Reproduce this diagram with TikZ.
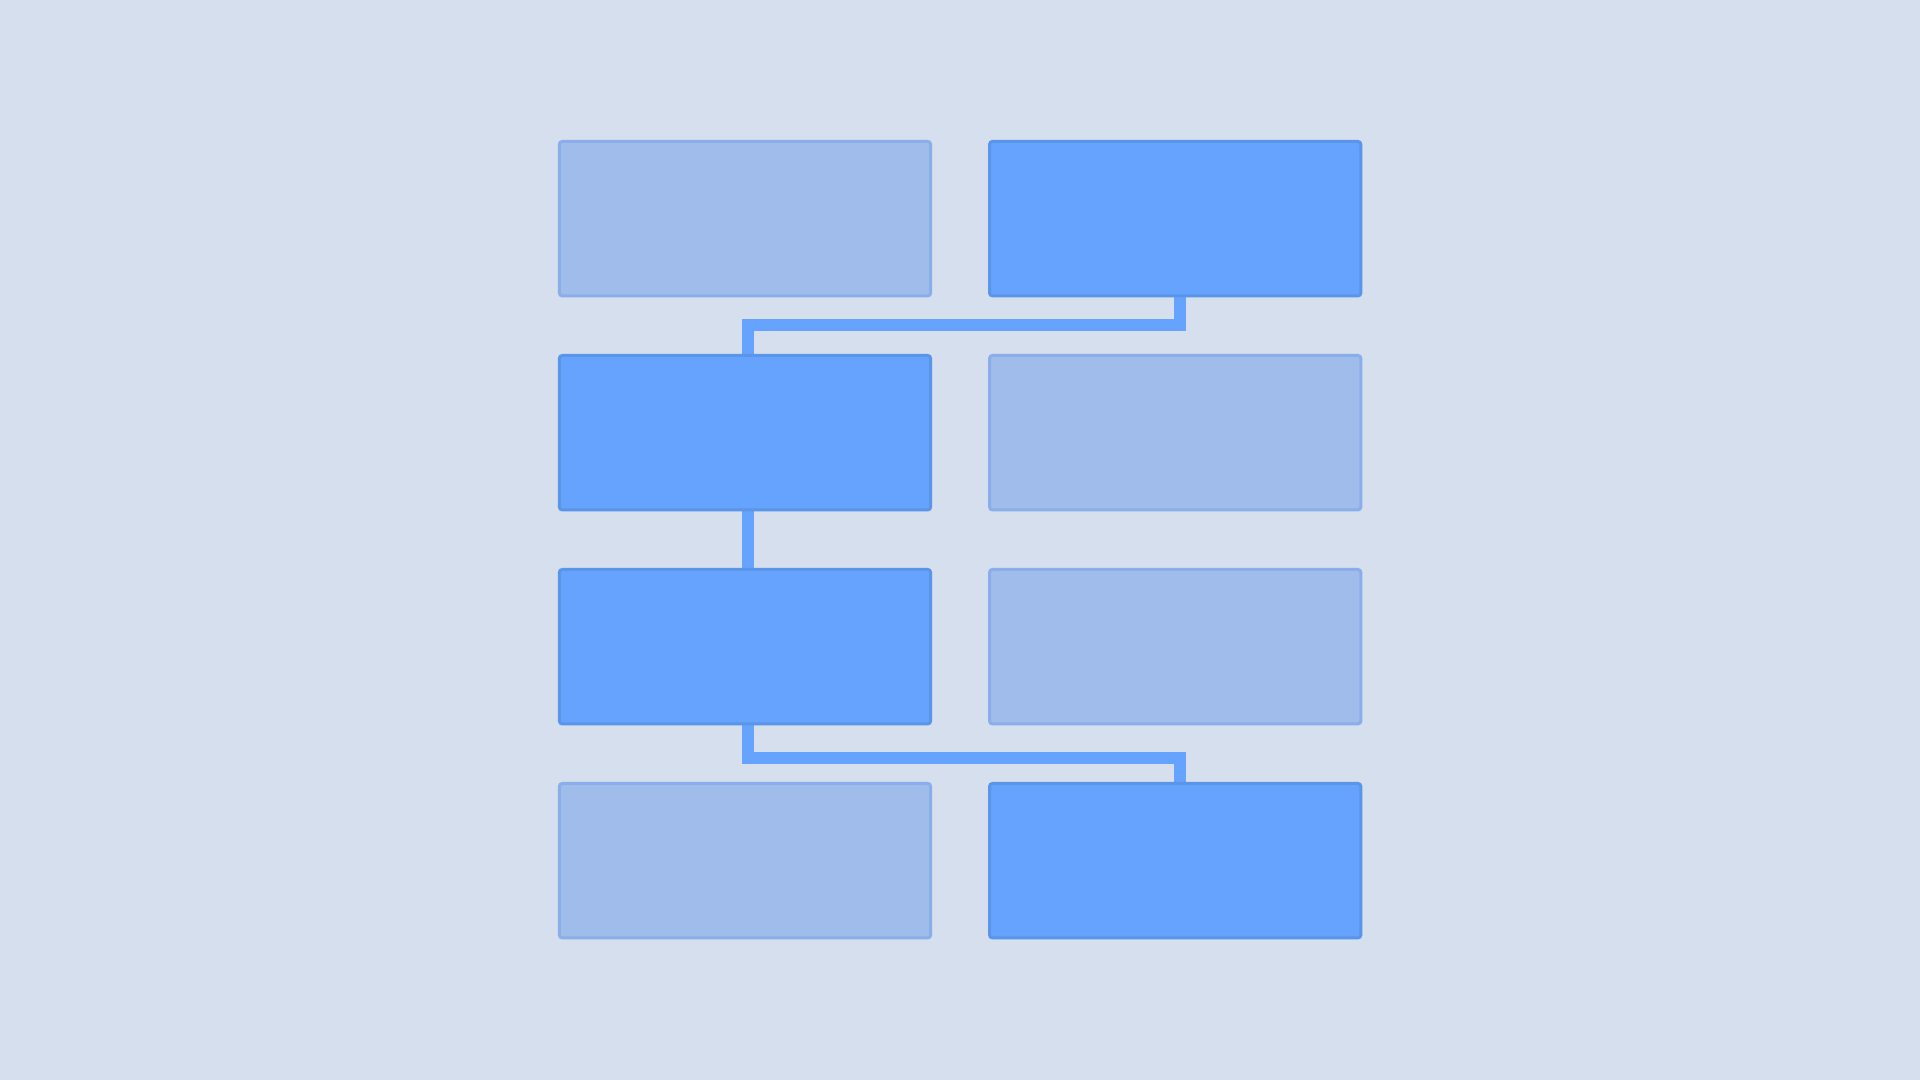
\documentclass[tikz,border=0pt]{standalone}
\usetikzlibrary{calc}
\definecolor{bgc}{HTML}{D5DFED}
\definecolor{fadefill}{HTML}{A0BCEA}
\definecolor{fadeline}{HTML}{8AAEEA}
\definecolor{actfill}{HTML}{66A3FF}
\definecolor{actline}{HTML}{5B95E8}
\definecolor{connc}{HTML}{66A3FF}
\pgfdeclarelayer{back}
\pgfdeclarelayer{conn}
\pgfsetlayers{back,conn,main}
\tikzset{
  boxbase/.style={rectangle, minimum width=3.71cm, minimum height=1.543cm, inner sep=0pt, outer sep=0pt, line width=0.03cm, rounded corners=0.8pt},
  fadebox/.style={boxbase, fill=fadefill, draw=fadeline},
  actbox/.style={boxbase, fill=actfill, draw=actline},
  connline/.style={draw=connc, line width=0.12cm, miter limit=10}
}
\begin{document}
\begin{tikzpicture}[x=0.01cm, y=-0.01cm]
\begin{pgfonlayer}{back}
\fill[bgc] (0,0) rectangle (1920,1080);
\end{pgfonlayer}
\useasboundingbox (0,0) rectangle (1920,1080);
\node[fadebox] (r1c1) at (745,218.7) {};
\node[actbox]  (r1c2) at (1175.2,218.7) {};
\node[actbox]  (r2c1) at (745,432.7) {};
\node[fadebox] (r2c2) at (1175.2,432.7) {};
\node[actbox]  (r3c1) at (745,646.7) {};
\node[fadebox] (r3c2) at (1175.2,646.7) {};
\node[fadebox] (r4c1) at (745,860.7) {};
\node[actbox]  (r4c2) at (1175.2,860.7) {};
\begin{pgfonlayer}{conn}
\draw[connline] ([xshift=0.048cm]r1c2.south) -- ++(0,29.5) -| ([xshift=0.034cm]r2c1.north);
\draw[connline] ([xshift=0.034cm]r2c1.south) -- ([xshift=0.034cm]r3c1.north);
\draw[connline] ([xshift=0.034cm]r3c1.south) -- ++(0,34.6) -| ([xshift=0.048cm]r4c2.north);
\end{pgfonlayer}
\end{tikzpicture}
\end{document}
